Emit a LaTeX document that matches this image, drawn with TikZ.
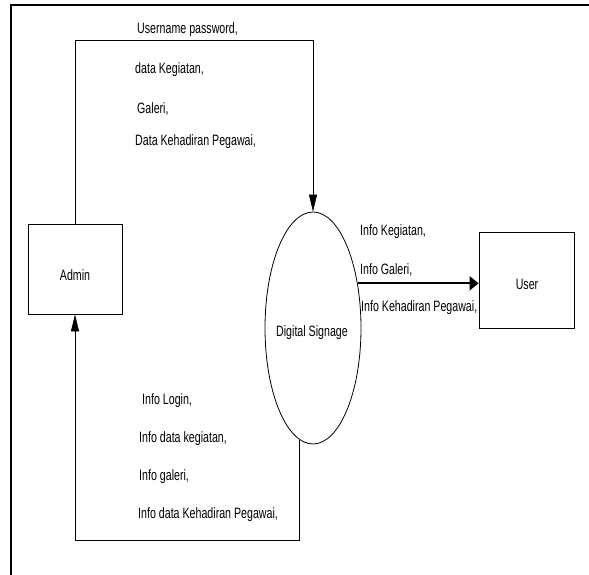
\documentclass[tikz,border=0pt]{standalone}
\usepackage{fontspec}
\setmainfont{Liberation Sans}[FakeStretch=0.71]
\usetikzlibrary{arrows.meta,shapes.geometric}
\begin{document}
\begin{tikzpicture}[x=1pt,y=-1pt,
  font=\fontsize{15}{18}\selectfont,
  entity/.style={draw,line width=0.8pt,rectangle,inner sep=0pt},
  process/.style={draw,line width=0.8pt,ellipse,inner sep=0pt},
  flow/.style={line width=0.7pt,-{Triangle[length=17pt,width=8pt]}},
  bigflow/.style={line width=1.8pt,-{Triangle[length=9pt,width=14pt]}},
  lbl/.style={anchor=west,inner sep=0pt}]
\useasboundingbox (0,0) rectangle (589,575);
% frame edges
\draw[line width=2pt] (11,575) -- (11,5) -- (589,5);

% nodes
\node[entity,minimum width=94pt,minimum height=90pt] (admin) at (75,269) {};
\node at (75,275) (adminlbl) {Admin};
\node[entity,minimum width=95pt,minimum height=96pt] (user) at (526.5,280) {};
\node at (527,284) (userlbl) {User};
\node[process,minimum width=96pt,minimum height=232pt] (ds) at (313,328) {};
\node at (312,333) (dslbl) {Digital Signage};

% routing rows
\coordinate (toprow) at (0,40);
\coordinate (botrow) at (0,540);

% Admin -> Digital Signage
\draw[flow] (admin.north) -- (admin.north |- toprow) -| (ds.north);
% Digital Signage -> Admin
\draw[flow] (ds.263) -- (ds.263 |- botrow) -| (admin.south);
% Digital Signage -> User
\draw[bigflow] (ds.45) -- (ds.45 -| user.west);

% flow labels
\node[lbl] (l1) at (137,30) {Username password,};
\node[lbl] (l2) at (135,70) {data Kegiatan,};
\node[lbl] (l3) at (137,109) {Galeri,};
\node[lbl] (l4) at (135,142) {Data Kehadiran Pegawai,};

\node[lbl] (r1) at (360,232) {Info Kegiatan,};
\node[lbl] (r2) at (360,270) {Info Galeri,};
\node[lbl] (r3) at (361,308) {Info Kehadiran Pegawai,};

\node[lbl] (b1) at (142,401) {Info Login,};
\node[lbl] (b2) at (139,439) {Info data kegiatan,};
\node[lbl] (b3) at (139,477) {Info galeri,};
\node[lbl] (b4) at (138,515) {Info data Kehadiran Pegawai,};
\end{tikzpicture}
\end{document}
